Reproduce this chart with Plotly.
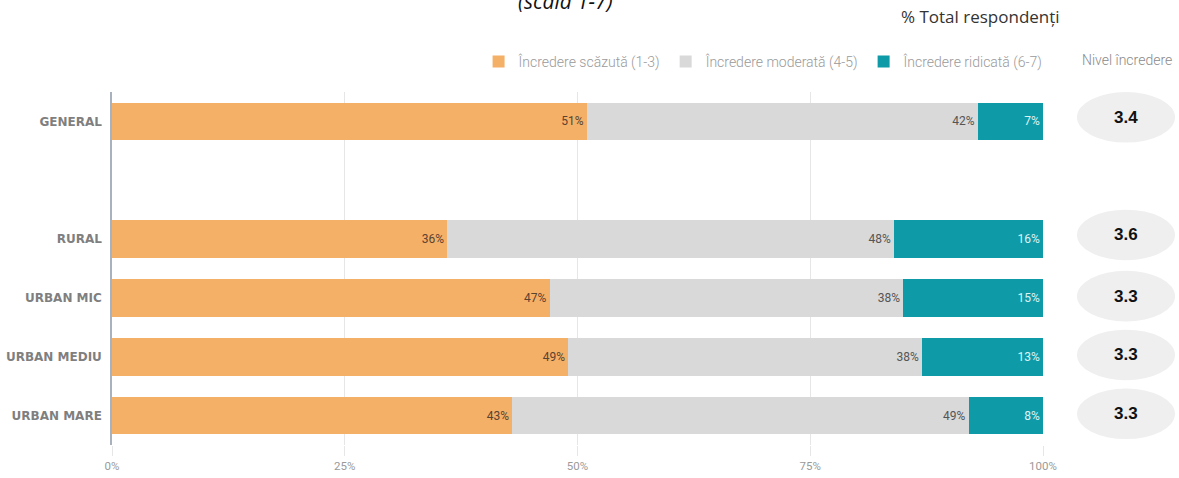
import plotly.graph_objects as go

categories = ["GENERAL", " ", "RURAL", "URBAN MIC", "URBAN MEDIU", "URBAN MARE"]
bar_cats = ["GENERAL", "RURAL", "URBAN MIC", "URBAN MEDIU", "URBAN MARE"]
low = [51, 36, 47, 49, 43]
moderate = [42, 48, 38, 38, 49]
high = [7, 16, 15, 13, 8]
trust_level = ["3.4", "3.6", "3.3", "3.3", "3.3"]
x_ticks = [0, 25, 50, 75, 100]
x_ticklabels = ["0%", "25%", "50%", "75%", "100%"]

series = [
    ("Încredere scăzută (1-3)", low, "#f5b068", "#5a4330"),
    ("Încredere moderată (4-5)", moderate, "#d9d9d9", "#555555"),
    ("Încredere ridicată (6-7)", high, "#0f9aa8", "#dff3f5"),
]

fig = go.Figure()
for name, vals, color, tcolor in series:
    fig.add_trace(go.Bar(
        name=name, y=bar_cats, x=vals, orientation="h",
        marker=dict(color=color, line=dict(width=0)),
        texttemplate="%{x}%", textposition="inside", insidetextanchor="end",
        textfont=dict(family="Roboto, sans-serif", size=12, color=tcolor),
        hoverinfo="skip",
    ))

fig.update_layout(
    barmode="stack",
    bargap=0.36,
    width=1179, height=478,
    margin=dict(l=112, r=136, t=92, b=33, autoexpand=False),
    paper_bgcolor="white", plot_bgcolor="white",
    font=dict(family="Roboto, sans-serif"),
    legend=dict(orientation="h", x=1.006, xanchor="right", y=1.04, yanchor="bottom",
                font=dict(size=14, color="#9a9a9a", family="Roboto, sans-serif", weight=300),
                traceorder="normal", itemwidth=30, itemsizing="constant"),
    xaxis=dict(range=[0, 100], tickvals=x_ticks, ticktext=x_ticklabels,
               showgrid=True, gridcolor="#e6e6e6", gridwidth=1, zeroline=False,
               ticks="outside", ticklen=10, tickcolor="#e6e6e6", automargin=False,
               tickfont=dict(size=11.5, color="#9a9a9a"), fixedrange=True),
    yaxis=dict(type="category", categoryorder="array", categoryarray=categories,
               range=[5.5, -0.5], showline=True, linecolor="#a9b1bf", linewidth=1.5,
               ticks="", ticklabelstandoff=6, automargin=False,
               tickfont=dict(size=12, color="#7f7f7f", family="DejaVu Sans, sans-serif"),
               fixedrange=True),
    showlegend=True,
)

fig.update_yaxes(tickvals=categories, ticktext=["<b>%s</b>" % c if c.strip() else "" for c in categories])

idx_map = {c: i for i, c in enumerate(categories)}
for cat, lvl in zip(bar_cats, trust_level):
    i = idx_map[cat]
    off = -0.07 if i <= 2 else -0.03
    fig.add_shape(type="circle", xref="paper", yref="y",
                  x0=1.0365, x1=1.1418, y0=i + off - 0.43, y1=i + off + 0.43,
                  fillcolor="#efefef", line=dict(width=0), layer="below")
    fig.add_annotation(xref="paper", yref="y", x=1.089, y=i + off, text="<b>%s</b>" % lvl,
                       showarrow=False, xanchor="center",
                       font=dict(family="Arial, Liberation Sans, sans-serif", size=17, color="#111111"))

fig.add_annotation(xref="paper", yref="paper", x=(565 - 112) / 931, y=(445 - 1) / 353,
                   text="<i>(scala 1-7)</i>", showarrow=False, xanchor="center", yanchor="middle",
                   font=dict(family="Open Sans, sans-serif", size=21, color="#111111"))
fig.add_annotation(xref="paper", yref="paper", x=(980 - 112) / 931, y=(445 - 17) / 353,
                   text="% Total respondenți", showarrow=False, xanchor="center", yanchor="middle",
                   font=dict(family="Open Sans, sans-serif", size=17, color="#333333"))
fig.add_annotation(xref="paper", yref="paper", x=(1127 - 112) / 931, y=(445 - 60) / 353,
                   text="Nivel încredere", showarrow=False, xanchor="center", yanchor="middle",
                   font=dict(family="Roboto, sans-serif", size=14, color="#8a8a8a", weight=300))

fig.write_html("out.html", config={"displayModeBar": False},
               post_script="document.body.style.margin='0';document.body.style.padding='0';")
